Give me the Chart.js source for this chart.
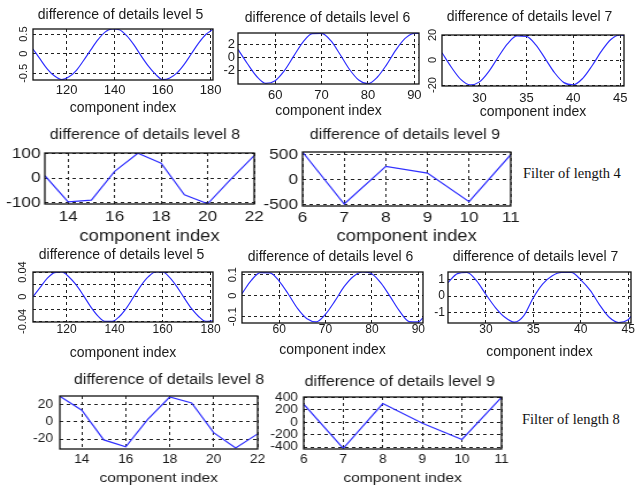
<!DOCTYPE html>
<html>
<head>
<meta charset="utf-8">
<script src="https://cdn.jsdelivr.net/npm/chart.js@4.4.1/dist/chart.umd.min.js"></script>
<style>
  html, body { margin: 0; padding: 0; background: #fff; }
  #fig { position: relative; width: 642px; height: 486px; overflow: hidden; background: #fff; }
  .note { position: absolute; font-family: 'Liberation Serif', 'Times New Roman', serif; font-size: 14.5px; line-height: 1; color: #111; white-space: nowrap; }
</style>
</head>
<body>
<div id="fig">
  <div class="note" style="left:523px; top:166px;">Filter of length 4</div>
  <div class="note" style="left:522px; top:412px;">Filter of length 8</div>
</div>
<script>
// ---------------- data ----------------
const titleL5 = 'difference of details level 5';
const titleL6 = 'difference of details level 6';
const titleL7 = 'difference of details level 7';
const titleL8 = 'difference of details level 8';
const titleL9 = 'difference of details level 9';
const xAxisLabel = 'component index';

// Filter of length 4
const p1X = [106,109,112,115,118,121,124,127,130,133,136,139,142,145,148,151,154,157,160,163,166,169,172,175,178,181];
const p1Y = [0.12,-0.14,-0.39,-0.57,-0.66,-0.59,-0.43,-0.18,0.09,0.35,0.55,0.63,0.61,0.46,0.23,-0.05,-0.31,-0.52,-0.66,-0.62,-0.49,-0.27,0.0,0.27,0.49,0.62];
const p1XTicks = [120,140,160,180];
const p1YTicks = [-0.5,0,0.5];

const p2X = [52,54,56,58,60,62,64,66,68,70,72,74,76,78,80,82,84,86,88,90,91];
const p2Y = [1.2,-0.9,-2.8,-3.85,-3.45,-1.95,0.2,2.3,3.55,3.6,2.5,0.45,-1.75,-3.35,-3.9,-2.95,-1.1,1.1,2.85,3.6,3.6];
const p2XTicks = [60,70,80,90];
const p2YTicks = [-2,0,2];

const p3X = [26,27,28,29,30,31,32,33,34,35,36,37,38,39,40,41,42,43,44,45,45.4];
const p3Y = [5.8,-5.8,-15.5,-19.9,-17.5,-9.1,2.4,13.1,19.3,18.9,12.1,1.1,-10.2,-18.1,-19.8,-14.7,-4.6,7.1,16.4,20,19.6];
const p3XTicks = [30,35,40,45];
const p3YTicks = [-20,0,20];

const p4X = [13,14,15,16,17,18,19,20,21,22];
const p4Y = [10,-97,-90,28,102,61,-68,-105,-4,92];
const p4XTicks = [14,16,18,20,22];
const p4YTicks = [-100,0,100];

const p5X = [6,7,8,9,10,11];
const p5Y = [552,-480,267,133,-433,500];
const p5XTicks = [6,7,8,9,10,11];
const p5YTicks = [-500,0,500];

// Filter of length 8
const p6X = [106,109,112,115,118,121,124,127,130,133,136,139,142,145,148,151,154,157,160,163,166,169,172,175,178,181];
const p6Y = [0,0.015,0.030,0.039,0.040,0.032,0.019,0.002,-0.016,-0.031,-0.040,-0.040,-0.032,-0.018,0,0.018,0.032,0.040,0.040,0.031,0.016,-0.002,-0.019,-0.032,-0.040,-0.039];
const p6XTicks = [120,140,160,180];
const p6YTicks = [-0.04,-0.02,0,0.02,0.04];
const p6YLabels = ['-0.04','','0','','0.04'];

const p7X = [52,54,56,58,60,62,64,66,68,70,72,74,76,78,80,82,84,86,88,90,91];
const p7Y = [0.01,0.073,0.110,0.109,0.07,0.007,-0.062,-0.11,-0.125,-0.088,-0.026,0.043,0.092,0.113,0.104,0.059,-0.007,-0.075,-0.123,-0.125,-0.105];
const p7XTicks = [60,70,80,90];
const p7YTicks = [-0.1,0,0.1];

const p8X = [26,27,28,29,30,31,32,33,34,35,36,37,38,39,40,41,42,43,44,45,45.3];
const p8Y = [0.83,1.38,1.45,0.95,0.1,-0.7,-1.3,-1.6,-1.2,-0.1,0.75,1.25,1.45,1.45,1.0,0.35,-0.55,-1.3,-1.62,-1.45,-1.25];
const p8XTicks = [30,35,40,45];
const p8YTicks = [-1,0,1];

const p9X = [13,14,15,16,17,18,19,20,21,22];
const p9Y = [29.5,13.4,-21,-29,2.7,28.6,21.7,-12.6,-30.4,-14];
const p9XTicks = [14,16,18,20,22];
const p9YTicks = [-20,0,20];

const p10X = [6,7,8,9,10,11];
const p10Y = [290,-420,300,-16,-277,400];
const p10XTicks = [6,7,8,9,10,11];
const p10YTicks = [-400,-200,0,200,400];

// ---------------- styling / layout ----------------
const FONT = "'Liberation Sans', Arial, Helvetica, sans-serif";
const TXT = '#1a1a1a';
const GRID = '#222';
const BLUE = '#3030ff';

const boxPlugin = {
  id: 'matlabBox',
  afterDatasetsDraw(chart) {
    const a = chart.chartArea, ctx = chart.ctx;
    ctx.save();
    ctx.strokeStyle = '#111';
    ctx.lineWidth = 1.3;
    ctx.setLineDash([]);
    ctx.strokeRect(a.left, a.top, a.right - a.left, a.bottom - a.top);
    ctx.restore();
  }
};

function panel(s) {
  const fig = document.getElementById('fig');
  const wrap = document.createElement('div');
  const k = s.k || 1;
  wrap.style.cssText = 'position:absolute;left:' + s.x0 + 'px;top:' + s.top + 'px;width:' + s.w + 'px;height:' + s.h +
    'px;transform-origin:0 0;transform:scaleX(' + k + ');';
  const c = document.createElement('canvas');
  c.width = s.w; c.height = s.h;
  c.style.width = s.w + 'px'; c.style.height = s.h + 'px';
  wrap.appendChild(c);
  fig.appendChild(wrap);
  const yLabels = s.yLabels || s.yTicks.map(v => String(v));
  const scales = {
    x: {
      type: 'linear', min: s.xMin, max: s.xMax,
      afterBuildTicks: sc => { sc.ticks = s.xTicks.map(v => ({ value: v })); },
      afterFit: sc => { sc.height = s.B; },
      grid: { color: GRID, lineWidth: 1, drawTicks: false },
      border: { display: false, dash: [3, 3] },
      ticks: {
        autoSkip: false, maxRotation: 0, minRotation: 0, padding: s.xPad, color: TXT,
        font: { family: FONT, size: s.fTick, lineHeight: 1 },
        callback: (v, i) => String(s.xTicks[i])
      },
      title: {
        display: true, text: xAxisLabel, color: TXT,
        font: { family: FONT, size: s.fLabel, lineHeight: 1 }, padding: 0
      }
    },
    y: {
      type: 'linear', min: s.yMin, max: s.yMax,
      afterBuildTicks: sc => { sc.ticks = s.yTicks.map(v => ({ value: v })); },
      afterFit: sc => { sc.width = s.L; },
      grid: { color: GRID, lineWidth: 1, drawTicks: false },
      border: { display: false, dash: [3, 3] },
      ticks: {
        autoSkip: false,
        padding: s.yPad,
        minRotation: s.rot ? 90 : 0, maxRotation: s.rot ? 90 : 0,
        crossAlign: s.rot ? 'center' : 'near',
        color: TXT,
        font: { family: FONT, size: s.fYTick || s.fTick, lineHeight: 1 },
        callback: (v, i) => yLabels[i]
      }
    },
    // empty spacer axis on the right: keeps the plot box where it is while the
    // title (centred on the whole canvas) lands where the reference has it
    spacer: {
      type: 'linear', position: 'right', display: true,
      grid: { display: false }, border: { display: false },
      ticks: { display: false }, title: { display: false },
      afterFit: sc => { sc.width = s.X; }
    }
  };
  new Chart(c, {
    type: 'line',
    data: {
      datasets: [{
        data: s.xs.map((x, i) => ({ x: x, y: s.ys[i] })),
        borderColor: BLUE,
        borderWidth: 1.2,
        pointRadius: 0,
        fill: false,
        tension: 0,
        cubicInterpolationMode: s.smooth ? 'monotone' : 'default'
      }]
    },
    options: {
      responsive: false,
      animation: false,
      events: [],
      layout: { padding: 0 },
      plugins: {
        legend: { display: false },
        tooltip: { enabled: false },
        title: {
          display: true, text: s.title, color: TXT,
          font: { family: FONT, size: s.fTitle, lineHeight: 1, weight: 'normal' },
          padding: { top: 0, bottom: s.q }
        }
      },
      scales: scales
    },
    plugins: [boxPlugin]
  });
}

// Row 1
panel({ title: titleL5, xs: p1X, ys: p1Y, xTicks: p1XTicks, yTicks: p1YTicks, xMin: 106, xMax: 181, yMin: -0.67, yMax: 0.63,
  x0: 0, top: 8, w: 241, h: 107, L: 33, X: 28, q: 7, xPad: 3.5, B: 35, yPad: -0.5, rot: true, smooth: true,
  fTitle: 14, fTick: 13, fYTick: 11, fLabel: 14 });
panel({ title: titleL6, xs: p2X, ys: p2Y, xTicks: p2XTicks, yTicks: p2YTicks, xMin: 52, xMax: 91, yMin: -3.95, yMax: 3.65,
  x0: 208, top: 11, w: 239, h: 107, L: 30, X: 28, q: 8, xPad: 4.5, B: 34, yPad: 3, smooth: true,
  fTitle: 14, fTick: 13, fLabel: 14 });
panel({ title: titleL7, xs: p3X, ys: p3Y, xTicks: p3XTicks, yTicks: p3YTicks, xMin: 26, xMax: 45.4, yMin: -20.8, yMax: 20,
  x0: 417, top: 10, w: 225, h: 109, L: 25, X: 18, q: 11, xPad: 5.5, B: 33, yPad: 1, rot: true, smooth: true,
  fTitle: 14, fTick: 13, fYTick: 11, fLabel: 14 });
// Row 2
panel({ title: titleL8, xs: p4X, ys: p4Y, xTicks: p4XTicks, yTicks: p4YTicks, xMin: 13, xMax: 22, yMin: -106, yMax: 103,
  x0: 0, top: 128, w: 252, h: 117, k: 1.15, L: 39, X: 31, q: 11, xPad: 5.2, B: 41, yPad: 3.7,
  fTitle: 14, fTick: 15, fLabel: 16 });
panel({ title: titleL9, xs: p5X, ys: p5Y, xTicks: p5XTicks, yTicks: p5YTicks, xMin: 6, xMax: 11, yMin: -520, yMax: 553,
  x0: 260, top: 128, w: 252, h: 117, k: 1.15, L: 37, X: 34, q: 10, xPad: 4.8, B: 39, yPad: 4,
  fTitle: 14, fTick: 15, fLabel: 16 });
// Row 3
panel({ title: titleL5, xs: p6X, ys: p6Y, xTicks: p6XTicks, yTicks: p6YTicks, yLabels: p6YLabels, xMin: 106, xMax: 181, yMin: -0.041, yMax: 0.04,
  x0: 0, top: 248, w: 243, h: 112, L: 33, X: 30, q: 10, xPad: 2, B: 38, yPad: -2.5, rot: true, smooth: true,
  fTitle: 14, fTick: 12, fYTick: 11, fLabel: 14 });
panel({ title: titleL6, xs: p7X, ys: p7Y, xTicks: p7XTicks, yTicks: p7YTicks, xMin: 52, xMax: 91, yMin: -0.13, yMax: 0.113,
  x0: 212, top: 250, w: 237, h: 107, L: 30, X: 26, q: 8, xPad: 1, B: 34, yPad: -0.5, rot: true, smooth: true,
  fTitle: 14, fTick: 12, fYTick: 11, fLabel: 14 });
panel({ title: titleL7, xs: p8X, ys: p8Y, xTicks: p8XTicks, yTicks: p8YTicks, xMin: 26, xMax: 45.3, yMin: -1.65, yMax: 1.48,
  x0: 429, top: 250, w: 213, h: 109, L: 19, X: 11, q: 8, xPad: 1, B: 36, yPad: 3, smooth: true,
  fTitle: 14, fTick: 12, fLabel: 14 });
// Row 4
panel({ title: titleL8, xs: p9X, ys: p9Y, xTicks: p9XTicks, yTicks: p9YTicks, xMin: 13, xMax: 22, yMin: -31.5, yMax: 29.8,
  x0: 0, top: 373, w: 294, h: 112, k: 1.15, L: 52, X: 70, q: 9, xPad: 4.5, B: 36, yPad: 5.8,
  fTitle: 14, fTick: 12, fLabel: 13.5 });
panel({ title: titleL9, xs: p10X, ys: p10Y, xTicks: p10XTicks, yTicks: p10YTicks, xMin: 6, xMax: 11, yMin: -430, yMax: 405,
  x0: 260, top: 375, w: 243, h: 110, k: 1.15, L: 38, X: 33, q: 8, xPad: 4.5, B: 36, yPad: 5,
  fTitle: 14, fTick: 12, fYTick: 12, fLabel: 13.5 });
</script>
</body>
</html>
